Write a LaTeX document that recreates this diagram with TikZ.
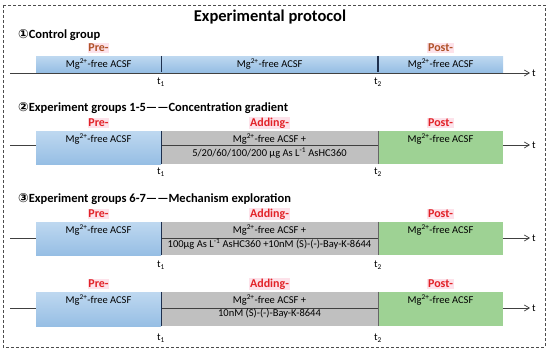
\documentclass[tikz,border=0pt]{standalone}
\usepackage{fontspec}
\setmainfont{Carlito}
\newfontfamily\circfont{DejaVu Sans}
\usepackage{xcolor}
\usepackage{tikz}
\usetikzlibrary{arrows.meta}
\definecolor{segblue}{RGB}{150,190,228}
\definecolor{segbluetop}{RGB}{190,216,240}
\definecolor{seggray}{RGB}{192,192,192}
\definecolor{seggreen}{RGB}{158,210,148}
\definecolor{phasered}{RGB}{226,34,40}
\definecolor{phasebrown}{RGB}{176,82,40}
\definecolor{phasepink}{RGB}{253,226,234}
\definecolor{divnavy}{RGB}{30,48,78}
\tikzset{
  pbox/.style={rectangle, inner sep=0pt, anchor=north west},
  pblue/.style={pbox, top color=segbluetop, bottom color=segblue},
  pgray/.style={pbox, fill=seggray},
  pgreen/.style={pbox, fill=seggreen},
  ptext/.style={font=\fontsize{10.5}{12}\selectfont, inner sep=0pt},
  pphase/.style={font=\fontsize{12}{14}\selectfont\bfseries, text=phasered, fill=phasepink, inner sep=0.8pt},
  phead/.style={font=\fontsize{12.5}{14}\selectfont\bfseries, anchor=west, inner sep=0pt},
  ptick/.style={font=\fontsize{10.5}{12}\selectfont, inner sep=0pt},
  paxis/.style={line width=0.7pt, draw=black!75, shorten >=2pt, -{Straight Barb[length=5pt,width=6pt]}},
  pdiv/.style={line width=1.6pt, draw=divnavy},
  pedge/.style={line width=0.6pt, draw=divnavy},
}

\begin{document}
\begin{tikzpicture}[x=1pt,y=-1pt]
\useasboundingbox (0,0) rectangle (550,350);
\draw[black!70, line width=0.8pt, dash pattern=on 3pt off 2pt] (3,5) rectangle (545,347);
\node[font=\fontsize{16.5}{19}\selectfont\bfseries] (title) at (270,17) {Experimental protocol};

% control group
\node[phead] (head1) at (18,35) {{\circfont ①}Control group};
\node[pblue, minimum width=125pt, minimum height=16pt] (pre1) at (36,56) {};
\node[pblue, minimum width=217pt, minimum height=16pt] (add1) at (161,56) {};
\node[pblue, minimum width=125pt, minimum height=16pt] (post1) at (378,56) {};
\coordinate (ax1) at (10,73);
\node[ptick, anchor=west] (tt1) at (532,73) {t};
\draw[paxis] (ax1) -- (tt1.west);
\draw[pdiv] (pre1.north east) -- (pre1.south east);
\draw[pdiv] (post1.north west) -- (post1.south west);
\node[ptext] at (pre1.center) {Mg\textsuperscript{2+}-free ACSF};
\node[ptext] at (add1.center) {Mg\textsuperscript{2+}-free ACSF};
\node[ptext] at (post1.center) {Mg\textsuperscript{2+}-free ACSF};
\node[pphase, text=phasebrown] (pre1l) at (98.5,48) {Pre-};
\node[pphase, text=phasebrown] (post1l) at (440.5,48) {Post-};
\node[ptick] (t1a) at (161,82) {t\textsubscript{1}};
\node[ptick] (t1b) at (378,82) {t\textsubscript{2}};

% groups 1-5
\node[phead] (head2) at (18,108) {{\circfont ②}Experiment groups 1-5——Concentration gradient};
\node[pgray, minimum width=217pt, minimum height=33pt] (add2) at (161,131) {};
\coordinate (ax2) at (10,145);
\node[ptick, anchor=west] (tt2) at (532,145) {t};
\draw[paxis] (ax2) -- (tt2.west);
\node[pblue, minimum width=125pt, minimum height=33pt] (pre2) at (36,131) {};
\node[pgreen, minimum width=125pt, minimum height=33pt] (post2) at (378,131) {};
\draw[pedge] (pre2.north east) -- (pre2.south east);
\draw[pedge, draw=black!60] (post2.north west) -- (post2.south west);
\node[ptext] at (98.5,139) {Mg\textsuperscript{2+}-free ACSF};
\node[ptext] at (269.5,139) {Mg\textsuperscript{2+}-free ACSF +};
\node[ptext] at (269.5,153) {5/20/60/100/200 μg As L\textsuperscript{-1} AsHC360};
\node[ptext] at (440.5,139) {Mg\textsuperscript{2+}-free ACSF};
\node[pphase] (pre2l) at (98.5,123) {Pre-};
\node[pphase] (add2l) at (269.5,123) {Adding-};
\node[pphase] (post2l) at (440.5,123) {Post-};
\node[ptick] (t2a) at (161,172) {t\textsubscript{1}};
\node[ptick] (t2b) at (378,172) {t\textsubscript{2}};

% groups 6-7
\node[phead] (head3) at (18,199) {{\circfont ③}Experiment groups 6-7——Mechanism exploration};
\node[pgray, minimum width=217pt, minimum height=33pt] (add3) at (161,222) {};
\coordinate (ax3) at (10,238);
\node[ptick, anchor=west] (tt3) at (532,238) {t};
\draw[paxis] (ax3) -- (tt3.west);
\node[pblue, minimum width=125pt, minimum height=33pt] (pre3) at (36,222) {};
\node[pgreen, minimum width=125pt, minimum height=33pt] (post3) at (378,222) {};
\draw[pedge] (pre3.north east) -- (pre3.south east);
\draw[pedge, draw=black!60] (post3.north west) -- (post3.south west);
\node[ptext] at (98.5,230) {Mg\textsuperscript{2+}-free ACSF};
\node[ptext] at (269.5,230) {Mg\textsuperscript{2+}-free ACSF +};
\node[ptext] at (269.5,244) {100μg As L\textsuperscript{-1} AsHC360 +10nM (S)-(-)-Bay-K-8644};
\node[ptext] at (440.5,230) {Mg\textsuperscript{2+}-free ACSF};
\node[pphase] (pre3l) at (98.5,214) {Pre-};
\node[pphase] (add3l) at (269.5,214) {Adding-};
\node[pphase] (post3l) at (440.5,214) {Post-};
\node[ptick] (t3a) at (161,265) {t\textsubscript{1}};
\node[ptick] (t3b) at (378,265) {t\textsubscript{2}};

\node[pgray, minimum width=217pt, minimum height=34pt] (add4) at (161,292) {};
\coordinate (ax4) at (10,308);
\node[ptick, anchor=west] (tt4) at (532,308) {t};
\draw[paxis] (ax4) -- (tt4.west);
\node[pblue, minimum width=125pt, minimum height=34pt] (pre4) at (36,292) {};
\node[pgreen, minimum width=125pt, minimum height=34pt] (post4) at (378,292) {};
\draw[pedge] (pre4.north east) -- (pre4.south east);
\draw[pedge, draw=black!60] (post4.north west) -- (post4.south west);
\node[ptext] at (98.5,300) {Mg\textsuperscript{2+}-free ACSF};
\node[ptext] at (269.5,300) {Mg\textsuperscript{2+}-free ACSF +};
\node[ptext] at (269.5,314) {10nM (S)-(-)-Bay-K-8644};
\node[ptext] at (440.5,300) {Mg\textsuperscript{2+}-free ACSF};
\node[pphase] (pre4l) at (98.5,284) {Pre-};
\node[pphase] (add4l) at (269.5,284) {Adding-};
\node[pphase] (post4l) at (440.5,284) {Post-};
\node[ptick] (t4a) at (161,338) {t\textsubscript{1}};
\node[ptick] (t4b) at (378,338) {t\textsubscript{2}};
\end{tikzpicture}
\end{document}
